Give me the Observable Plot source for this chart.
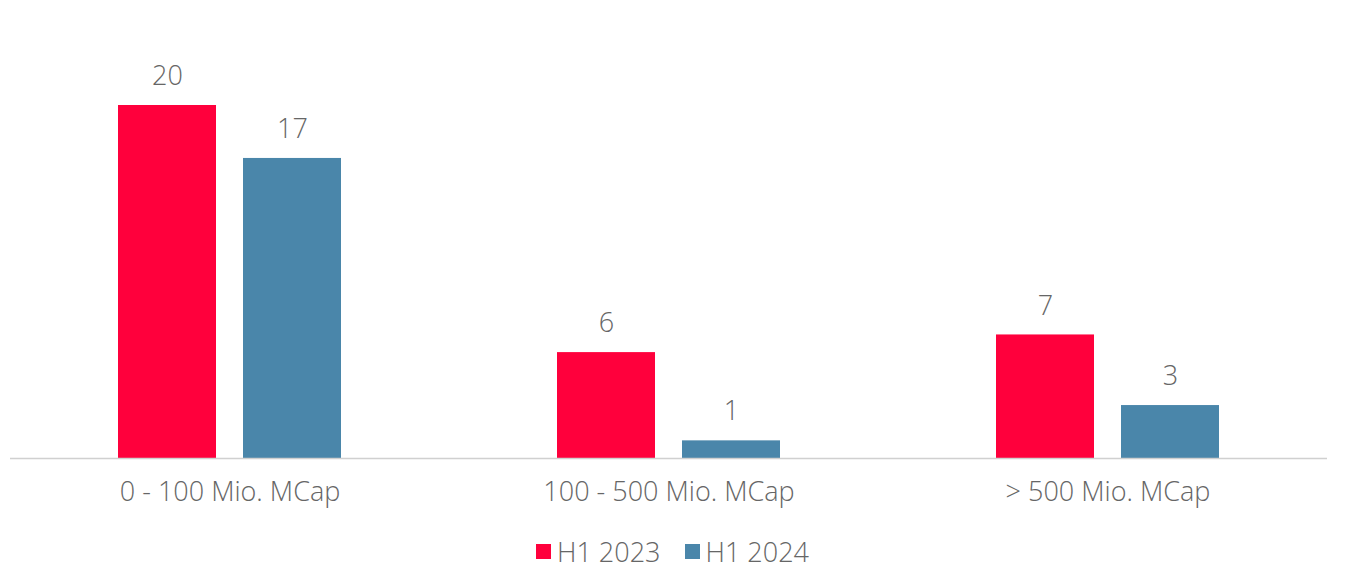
<!DOCTYPE html>
<html>
<head>
<meta charset="utf-8">
<script src="https://cdn.jsdelivr.net/npm/d3@7"></script>
<script src="https://cdn.jsdelivr.net/npm/@observablehq/plot@0.6"></script>
<style>
  html, body { margin: 0; padding: 0; background: #ffffff; }
  body { width: 1355px; height: 576px; overflow: hidden; font-family: "Open Sans", sans-serif; }
  #legend { display: flex; justify-content: center; gap: 24px; margin-left: -10px; margin-top: 13px; font-size: 27px; font-weight: 300; color: #666666; }
  .item { display: flex; align-items: center; gap: 6px; }
  .sw { width: 15px; height: 15px; display: inline-block; }
</style>
</head>
<body>
<div id="chart"></div>
<div id="legend"></div>
<script>
const groups = ["0 - 100 Mio. MCap", "100 - 500 Mio. MCap", "> 500 Mio. MCap"];
const series = ["H1 2023", "H1 2024"];
const valuesH12023 = [20, 6, 7];
const valuesH12024 = [17, 1, 3];
const colors = ["#ff003c", "#4a86aa"];

const data = [];
groups.forEach((g, i) => {
  data.push({group: g, series: series[0], value: valuesH12023[i]});
  data.push({group: g, series: series[1], value: valuesH12024[i]});
});

const plot = Plot.plot({
  width: 1355,
  height: 520,
  marginTop: 105,
  marginBottom: 62,
  marginLeft: 10,
  marginRight: 28,
  style: {fontFamily: "Open Sans, sans-serif", background: "#ffffff"},
  fx: {domain: groups, padding: 0, label: null},
  x: {domain: series, axis: null, paddingInner: 0.216, paddingOuter: 0.864},
  y: {domain: [0, 20], axis: null},
  color: {domain: series, range: colors},
  marks: [
    Plot.barY(data, {fx: "group", x: "series", y: "value", fill: "series"}),
    Plot.ruleY([0], {stroke: "#d0d0d0", strokeWidth: 1.5}),
    Plot.text(data, {fx: "group", x: "series", y: "value", text: d => String(d.value), dy: -29, fontSize: 27, fontWeight: 300, fill: "#666666"}),
    Plot.axisFx({anchor: "bottom", tickSize: 0, tickPadding: 23, fontSize: 27, fontWeight: 300, fill: "#666666", label: null})
  ]
});
document.getElementById("chart").appendChild(plot);

const legend = document.getElementById("legend");
series.forEach((s, i) => {
  const item = document.createElement("div");
  item.className = "item";
  const sw = document.createElement("span");
  sw.className = "sw";
  sw.style.background = colors[i];
  const t = document.createElement("span");
  t.textContent = s;
  item.appendChild(sw);
  item.appendChild(t);
  legend.appendChild(item);
});
</script>
</body>
</html>
